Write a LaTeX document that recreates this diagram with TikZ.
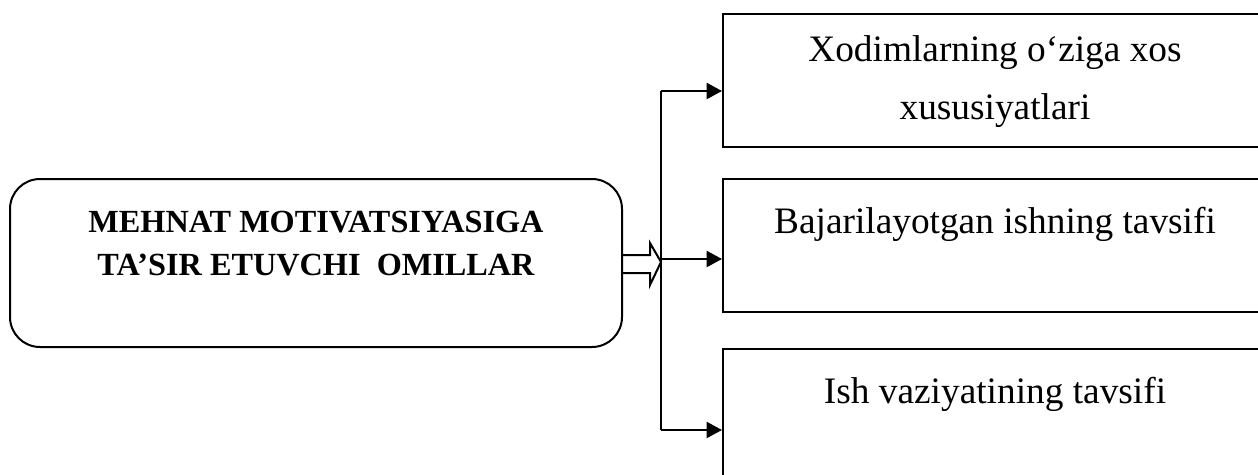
\documentclass[tikz,border=0pt]{standalone}
\usepackage{fontspec}
\setmainfont{Liberation Serif}
\usetikzlibrary{arrows.meta,calc}
\begin{document}
\begin{tikzpicture}[x=0.75pt,y=-0.75pt,
  line width=1.5pt,
  mainbox/.style={draw, rounded corners=22.5pt, minimum width=459pt, minimum height=126pt, inner sep=0pt},
  sidebox/.style={draw, minimum width=408pt, minimum height=100pt, inner sep=0pt},
  boldtxt/.style={font=\fontsize{24.2}{32}\selectfont\bfseries, align=center, inner sep=0pt, anchor=north},
  sidetxt/.style={font=\fontsize{28}{43}\selectfont, align=center, inner sep=0pt, anchor=north},
  feed/.style={-{Triangle[length=11.5pt,width=12pt]}, line width=1.6pt}
]
\useasboundingbox (0,0) rectangle (1258,475);
\clip (0,0) rectangle (1258,475);

% main factor box on the left
\node[mainbox] (main) at (316,263) {};
\node[boldtxt] (maintext) at (316,210) {MEHNAT MOTIVATSIYASIGA\\TA’SIR ETUVCHI\ \ OMILLAR};

% three factor boxes on the right
\node[sidebox] (b1) at (995,80.5) {};
\node[sidebox] (b2) at (995,245.5) {};
\node[sidebox] (b3) at (995,415.5) {};
\node[sidetxt] (t1) at (995,35) {Xodimlarning o‘ziga xos\\xususiyatlari};
\node[sidetxt] (t2) at (995,206) {Bajarilayotgan ishning tavsifi};
\node[sidetxt] (t3) at (995,376) {Ish vaziyatining tavsifi};

% hollow block arrow leaving the main box
\coordinate (tip) at (661,262);
\draw[line width=1.5pt, line join=miter]
  ($(main.east)+(0,-8)$) -- (650,255) -- (650,243) -- (tip)
  -- (650,285) -- (650,273) -- ($(main.east)+(0,10)$);

% distribution bus and feeding arrows
\coordinate (bustop) at (661,91);
\coordinate (busmid) at (661,259);
\coordinate (busbot) at (661,430);
\draw[line width=1.6pt] (bustop) -- (busbot);
\draw[feed] (bustop) -- (bustop -| b1.west);
\draw[feed] (busmid) -- (busmid -| b2.west);
\draw[feed] (busbot) -- (busbot -| b3.west);
\end{tikzpicture}
\end{document}
